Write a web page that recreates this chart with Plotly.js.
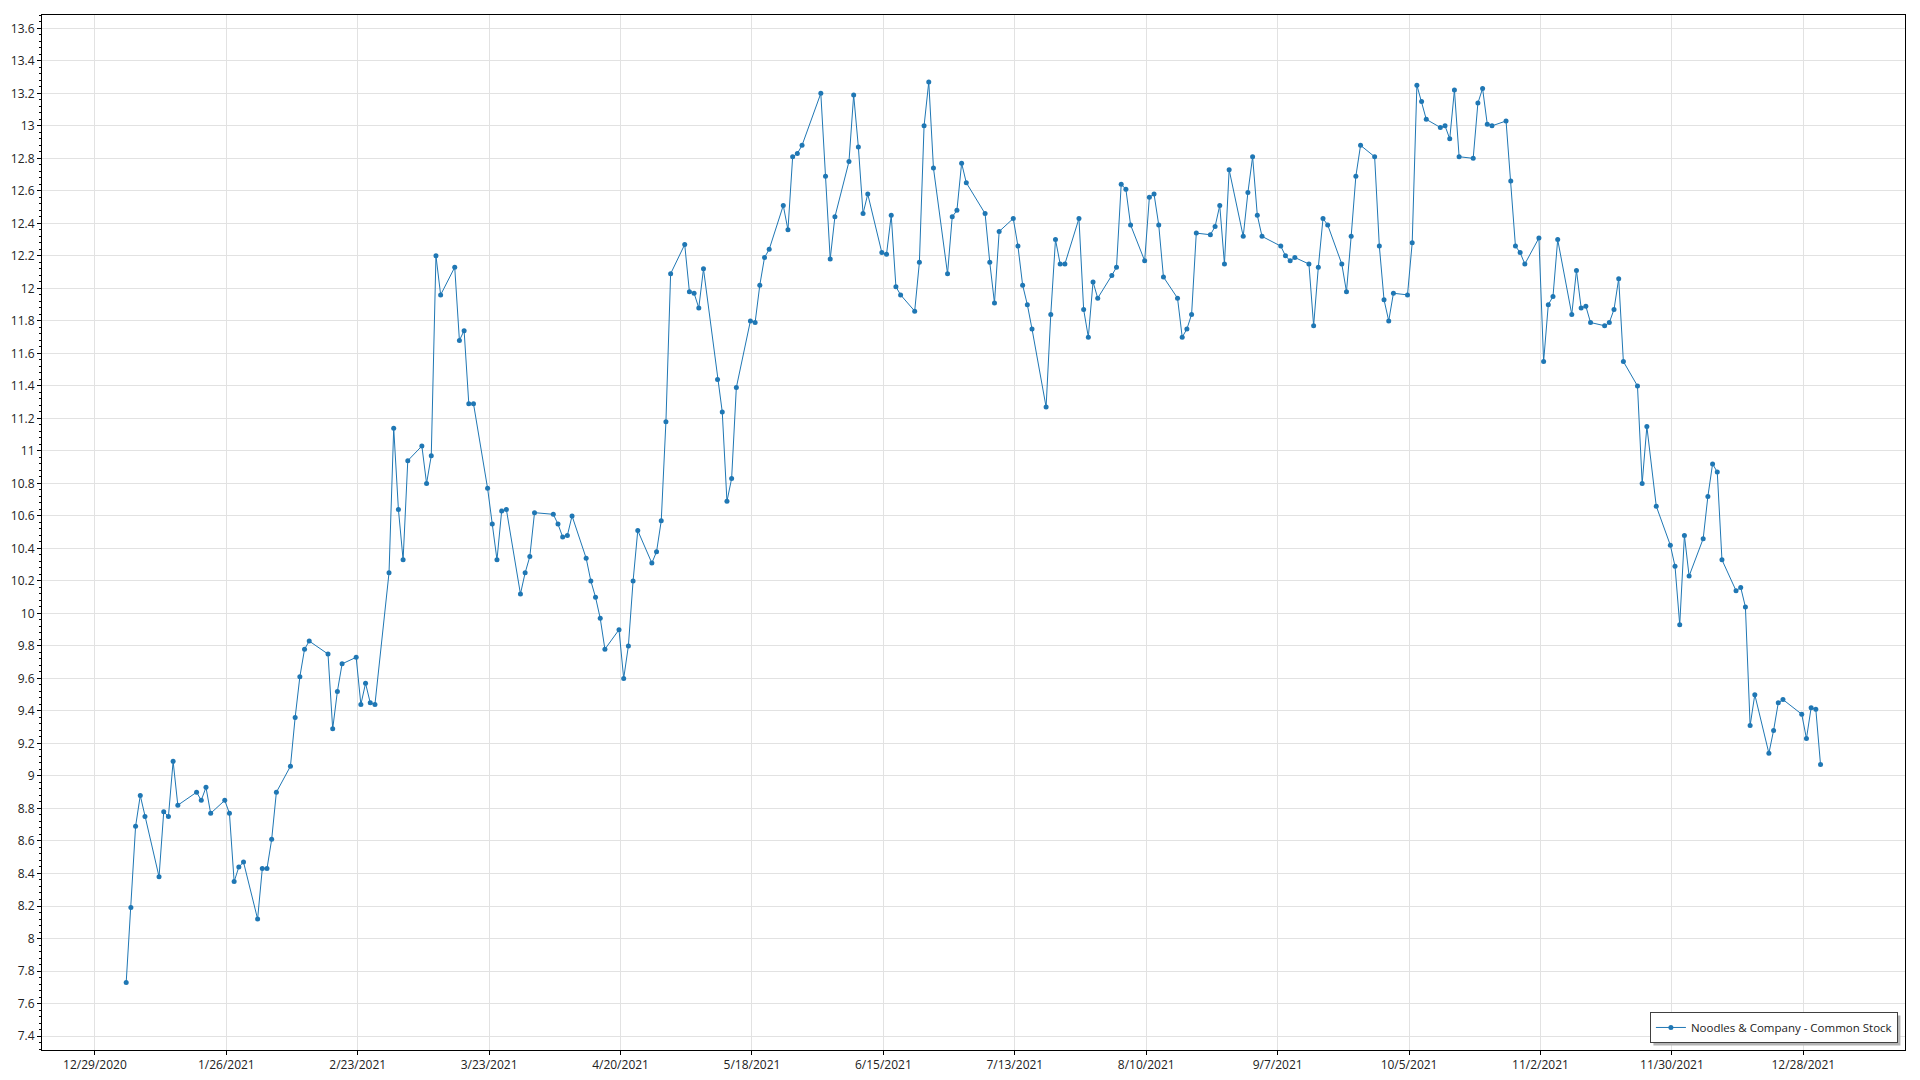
<!DOCTYPE html>
<html>
<head>
<meta charset="utf-8">
<script src="https://cdn.plot.ly/plotly-3.0.1.min.js"></script>
<style>
  html, body { margin: 0; padding: 0; background: #ffffff; }
  #chart { width: 1920px; height: 1080px; }
</style>
</head>
<body>
<div id="chart"></div>
<script>
// Trading days of 2021 (daily close)
const tradeDates = [
  "2021-01-04","2021-01-05","2021-01-06","2021-01-07","2021-01-08","2021-01-11","2021-01-12","2021-01-13","2021-01-14","2021-01-15","2021-01-19","2021-01-20","2021-01-21","2021-01-22","2021-01-25","2021-01-26","2021-01-27","2021-01-28","2021-01-29",
  "2021-02-01","2021-02-02","2021-02-03","2021-02-04","2021-02-05","2021-02-08","2021-02-09","2021-02-10","2021-02-11","2021-02-12","2021-02-16","2021-02-17","2021-02-18","2021-02-19","2021-02-22","2021-02-23","2021-02-24","2021-02-25","2021-02-26",
  "2021-03-01","2021-03-02","2021-03-03","2021-03-04","2021-03-05","2021-03-08","2021-03-09","2021-03-10","2021-03-11","2021-03-12","2021-03-15","2021-03-16","2021-03-17","2021-03-18","2021-03-19","2021-03-22","2021-03-23","2021-03-24","2021-03-25","2021-03-26","2021-03-29","2021-03-30","2021-03-31",
  "2021-04-01","2021-04-05","2021-04-06","2021-04-07","2021-04-08","2021-04-09","2021-04-12","2021-04-13","2021-04-14","2021-04-15","2021-04-16","2021-04-19","2021-04-20","2021-04-21","2021-04-22","2021-04-23","2021-04-26","2021-04-27","2021-04-28","2021-04-29","2021-04-30",
  "2021-05-03","2021-05-04","2021-05-05","2021-05-06","2021-05-07","2021-05-10","2021-05-11","2021-05-12","2021-05-13","2021-05-14","2021-05-17","2021-05-18","2021-05-19","2021-05-20","2021-05-21","2021-05-24","2021-05-25","2021-05-26","2021-05-27","2021-05-28",
  "2021-06-01","2021-06-02","2021-06-03","2021-06-04","2021-06-07","2021-06-08","2021-06-09","2021-06-10","2021-06-11","2021-06-14","2021-06-15","2021-06-16","2021-06-17","2021-06-18","2021-06-21","2021-06-22","2021-06-23","2021-06-24","2021-06-25","2021-06-28","2021-06-29","2021-06-30",
  "2021-07-01","2021-07-02","2021-07-06","2021-07-07","2021-07-08","2021-07-09","2021-07-12","2021-07-13","2021-07-14","2021-07-15","2021-07-16","2021-07-19","2021-07-20","2021-07-21","2021-07-22","2021-07-23","2021-07-26","2021-07-27","2021-07-28","2021-07-29","2021-07-30",
  "2021-08-02","2021-08-03","2021-08-04","2021-08-05","2021-08-06","2021-08-09","2021-08-10","2021-08-11","2021-08-12","2021-08-13","2021-08-16","2021-08-17","2021-08-18","2021-08-19","2021-08-20","2021-08-23","2021-08-24","2021-08-25","2021-08-26","2021-08-27","2021-08-30","2021-08-31",
  "2021-09-01","2021-09-02","2021-09-03","2021-09-07","2021-09-08","2021-09-09","2021-09-10","2021-09-13","2021-09-14","2021-09-15","2021-09-16","2021-09-17","2021-09-20","2021-09-21","2021-09-22","2021-09-23","2021-09-24","2021-09-27","2021-09-28","2021-09-29","2021-09-30",
  "2021-10-01","2021-10-04","2021-10-05","2021-10-06","2021-10-07","2021-10-08","2021-10-11","2021-10-12","2021-10-13","2021-10-14","2021-10-15","2021-10-18","2021-10-19","2021-10-20","2021-10-21","2021-10-22","2021-10-25","2021-10-26","2021-10-27","2021-10-28","2021-10-29",
  "2021-11-01","2021-11-02","2021-11-03","2021-11-04","2021-11-05","2021-11-08","2021-11-09","2021-11-10","2021-11-11","2021-11-12","2021-11-15","2021-11-16","2021-11-17","2021-11-18","2021-11-19","2021-11-22","2021-11-23","2021-11-24","2021-11-26","2021-11-29","2021-11-30",
  "2021-12-01","2021-12-02","2021-12-03","2021-12-06","2021-12-07","2021-12-08","2021-12-09","2021-12-10","2021-12-13","2021-12-14","2021-12-15","2021-12-16","2021-12-17","2021-12-20","2021-12-21","2021-12-22","2021-12-23","2021-12-27","2021-12-28","2021-12-29","2021-12-30","2021-12-31"
];

const closePrices = [
  7.73, 8.19, 8.69, 8.88, 8.75, 8.38, 8.78, 8.75, 9.09, 8.82, 8.90, 8.85, 8.93, 8.77, 8.85, 8.77, 8.35, 8.44, 8.47,
  8.12, 8.43, 8.43, 8.61, 8.90, 9.06, 9.36, 9.61, 9.78, 9.83, 9.75, 9.29, 9.52, 9.69, 9.73, 9.44, 9.57, 9.45, 9.44,
  10.25, 11.14, 10.64, 10.33, 10.94, 11.03, 10.80, 10.97, 12.20, 11.96, 12.13, 11.68, 11.74, 11.29, 11.29, 10.77, 10.55, 10.33, 10.63, 10.64, 10.12, 10.25, 10.35,
  10.62, 10.61, 10.55, 10.47, 10.48, 10.60, 10.34, 10.20, 10.10, 9.97, 9.78, 9.90, 9.60, 9.80, 10.20, 10.51, 10.31, 10.38, 10.57, 11.18, 12.09,
  12.27, 11.98, 11.97, 11.88, 12.12, 11.44, 11.24, 10.69, 10.83, 11.39, 11.80, 11.79, 12.02, 12.19, 12.24, 12.51, 12.36, 12.81, 12.83, 12.88,
  13.20, 12.69, 12.18, 12.44, 12.78, 13.19, 12.87, 12.46, 12.58, 12.22, 12.21, 12.45, 12.01, 11.96, 11.86, 12.16, 13.00, 13.27, 12.74, 12.09, 12.44, 12.48,
  12.77, 12.65, 12.46, 12.16, 11.91, 12.35, 12.43, 12.26, 12.02, 11.90, 11.75, 11.27, 11.84, 12.30, 12.15, 12.15, 12.43, 11.87, 11.70, 12.04, 11.94,
  12.08, 12.13, 12.64, 12.61, 12.39, 12.17, 12.56, 12.58, 12.39, 12.07, 11.94, 11.70, 11.75, 11.84, 12.34, 12.33, 12.38, 12.51, 12.15, 12.73, 12.32, 12.59,
  12.81, 12.45, 12.32, 12.26, 12.20, 12.17, 12.19, 12.15, 11.77, 12.13, 12.43, 12.39, 12.15, 11.98, 12.32, 12.69, 12.88, 12.81, 12.26, 11.93, 11.80,
  11.97, 11.96, 12.28, 13.25, 13.15, 13.04, 12.99, 13.00, 12.92, 13.22, 12.81, 12.80, 13.14, 13.23, 13.01, 13.00, 13.03, 12.66, 12.26, 12.22, 12.15,
  12.31, 11.55, 11.90, 11.95, 12.30, 11.84, 12.11, 11.88, 11.89, 11.79, 11.77, 11.79, 11.87, 12.06, 11.55, 11.40, 10.80, 11.15, 10.66, 10.42, 10.29,
  9.93, 10.48, 10.23, 10.46, 10.72, 10.92, 10.87, 10.33, 10.14, 10.16, 10.04, 9.31, 9.50, 9.14, 9.28, 9.45, 9.47, 9.38, 9.23, 9.42, 9.41, 9.07
];

const seriesName = "Noodles & Company - Common Stock";
const closeTime = " 16:00";

const fontFamily = "'Segoe UI', 'Open Sans', 'Noto Sans', sans-serif";
const lineColor = "#1f77b4";
const gridColor = "#e2e2e2";

const trace = {
  x: tradeDates.map(d => d + closeTime),
  y: closePrices,
  type: "scatter",
  mode: "lines+markers",
  name: seriesName,
  line: { color: lineColor, width: 1 },
  marker: { color: lineColor, size: 5 }
};

const layout = {
  width: 1920,
  height: 1080,
  margin: { l: 42, r: 15, t: 15, b: 30, pad: 0 },
  paper_bgcolor: "#ffffff",
  plot_bgcolor: "#ffffff",
  font: { family: fontFamily, size: 12, color: "#222222" },
  showlegend: true,
  legend: {
    x: 0.9962, y: 0.0068, xanchor: "right", yanchor: "bottom",
    bgcolor: "#ffffff", bordercolor: "#404040", borderwidth: 1,
    tracegroupgap: 0, itemwidth: 30,
    font: { family: fontFamily, size: 11.5, color: "#222222" }
  },
  xaxis: {
    type: "date",
    range: ["2020-12-17 17:30", "2022-01-18 16:00"],
    tick0: "2020-12-29",
    dtick: 28 * 86400000,
    tickformat: "%-m/%-d/%Y",
    showgrid: true, gridcolor: gridColor, gridwidth: 1,
    ticks: "outside", ticklen: 4, tickcolor: "#000000", tickwidth: 1,
    showline: true, linecolor: "#000000", linewidth: 1, mirror: true,
    zeroline: false,
    tickfont: { family: fontFamily, size: 12, color: "#222222" }
  },
  yaxis: {
    range: [7.314, 13.682],
    tick0: 7.4,
    dtick: 0.2,
    showgrid: true, gridcolor: gridColor, gridwidth: 1,
    ticks: "outside", ticklen: 4, tickcolor: "#000000", tickwidth: 1,
    minor: { dtick: 0.04, ticks: "outside", ticklen: 2, tickcolor: "#000000", showgrid: false },
    showline: true, linecolor: "#000000", linewidth: 1, mirror: true,
    zeroline: false,
    tickfont: { family: fontFamily, size: 12, color: "#222222" }
  }
};

const gd = document.getElementById("chart");
Plotly.newPlot(gd, [trace], layout, { displayModeBar: false, staticPlot: true }).then(() => {
  // drop shadow behind the legend box
  const bg = gd.querySelector(".legend .bg");
  if (!bg) return;
  const r = bg.getBoundingClientRect();
  const host = gd.getBoundingClientRect();
  const fl = gd._fullLayout;
  const plotW = fl._size.w, plotH = fl._size.h, offL = fl._size.l, offT = fl._size.t;
  const shift = 3;
  const px0 = r.left - host.left + shift, px1 = r.right - host.left + shift;
  const py0 = r.top - host.top + shift, py1 = r.bottom - host.top + shift;
  const shadow = {
    type: "rect", xref: "paper", yref: "paper", layer: "above",
    x0: (px0 - offL) / plotW, x1: (px1 - offL) / plotW,
    y0: 1 - (py1 - offT) / plotH, y1: 1 - (py0 - offT) / plotH,
    fillcolor: "#b4b4b4", line: { width: 0 }
  };
  Plotly.relayout(gd, { shapes: [shadow] });
});
</script>
</body>
</html>
